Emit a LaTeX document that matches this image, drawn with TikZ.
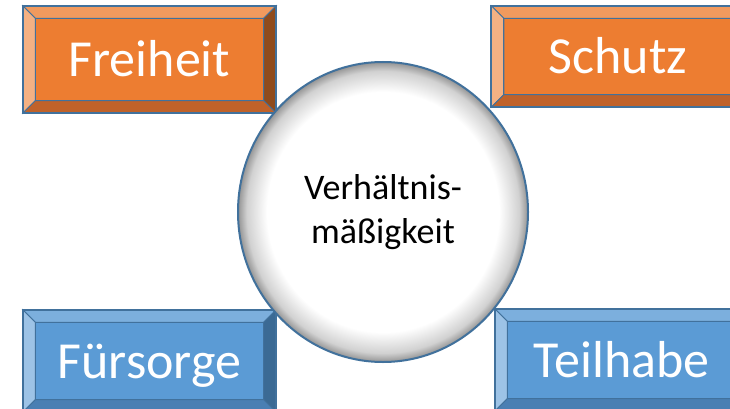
\documentclass[tikz,border=0pt]{standalone}
\usepackage{fontspec}
\setmainfont{Carlito}
\usetikzlibrary{positioning, calc, shapes.geometric}

\definecolor{edgeblue}{HTML}{41719C}
\definecolor{orangefill}{HTML}{ED7D31}
\definecolor{orangetop}{HTML}{F19A5E}
\definecolor{orangeleft}{HTML}{F4B183}
\definecolor{orangeright}{HTML}{8F4B1C}
\definecolor{orangebottom}{HTML}{C0622A}
\definecolor{bluefill}{HTML}{5B9BD5}
\definecolor{bluetop}{HTML}{7CAFDD}
\definecolor{blueleft}{HTML}{9DC3E6}
\definecolor{blueright}{HTML}{3B6A94}
\definecolor{bluebottom}{HTML}{4A7FB3}

\pgfdeclareradialshading{lens_shade}{\pgfpoint{0bp}{0bp}}{color(0bp)=(white); color(20bp)=(white); color(23.5bp)=(black!18); color(25bp)=(black!42); color(50bp)=(black!42)}

% #1 node, #2 colour prefix, #3 text
\newcommand{\bevelbox}[3]{
    \coordinate (#1_nw) at ($(#1.north west)+(12.5,12.5)$);
    \coordinate (#1_ne) at ($(#1.north east)+(-12.5,12.5)$);
    \coordinate (#1_sw) at ($(#1.south west)+(12.5,-12.5)$);
    \coordinate (#1_se) at ($(#1.south east)+(-12.5,-12.5)$);
    \fill[#2fill] (#1.north west) rectangle (#1.south east);
    \filldraw[fill=#2top, draw=edgeblue, line width=1pt] (#1.north west) -- (#1.north east) -- (#1_ne) -- (#1_nw) -- cycle;
    \filldraw[fill=#2left, draw=edgeblue, line width=1pt] (#1.north west) -- (#1_nw) -- (#1_sw) -- (#1.south west) -- cycle;
    \filldraw[fill=#2right, draw=edgeblue, line width=1pt] (#1.north east) -- (#1_ne) -- (#1_se) -- (#1.south east) -- cycle;
    \filldraw[fill=#2bottom, draw=edgeblue, line width=1pt] (#1.south west) -- (#1_sw) -- (#1_se) -- (#1.south east) -- cycle;
    \draw[edgeblue, line width=1.3pt] (#1_nw) rectangle (#1_se);
    \draw[edgeblue, line width=2pt] (#1.north west) rectangle (#1.south east);
    \node[text=white, font=\fontsize{52}{62}\selectfont, anchor=base] (#1_label) at ($(#1.center)+(0,17)$) {#3};
}

\begin{document}
\begin{tikzpicture}
    [
        x=1pt, y=-1pt,
        box_node/.style={rectangle, minimum width=253pt, inner sep=0pt},
        centre_node/.style={ellipse, draw=edgeblue, line width=2pt, shading=lens_shade, minimum width=290pt, minimum height=300pt, inner sep=0pt, align=center, font=\fontsize{36}{44}\selectfont},
    ]
        \useasboundingbox (0,0) rectangle (730,409) ;
        \clip (0,0) rectangle (730,409) ;
        \node[box_node, minimum height=107pt] (freiheit) at (149.5,59.5) {} ;
        \node[box_node, minimum height=101pt] (schutz) at (618,56.5) {} ;
        \node[box_node, minimum height=102pt] (fuersorge) at (149.5,361) {} ;
        \node[box_node, minimum height=102pt] (teilhabe) at (621.5,360) {} ;
        \bevelbox{freiheit}{orange}{Freiheit}
        \bevelbox{schutz}{orange}{Schutz}
        \bevelbox{fuersorge}{blue}{Fürsorge}
        \bevelbox{teilhabe}{blue}{Teilhabe}
        \node[centre_node] (mass) at (383,212) {Verhältnis-\\mäßigkeit} ;
    \end{tikzpicture}
\end{document}
